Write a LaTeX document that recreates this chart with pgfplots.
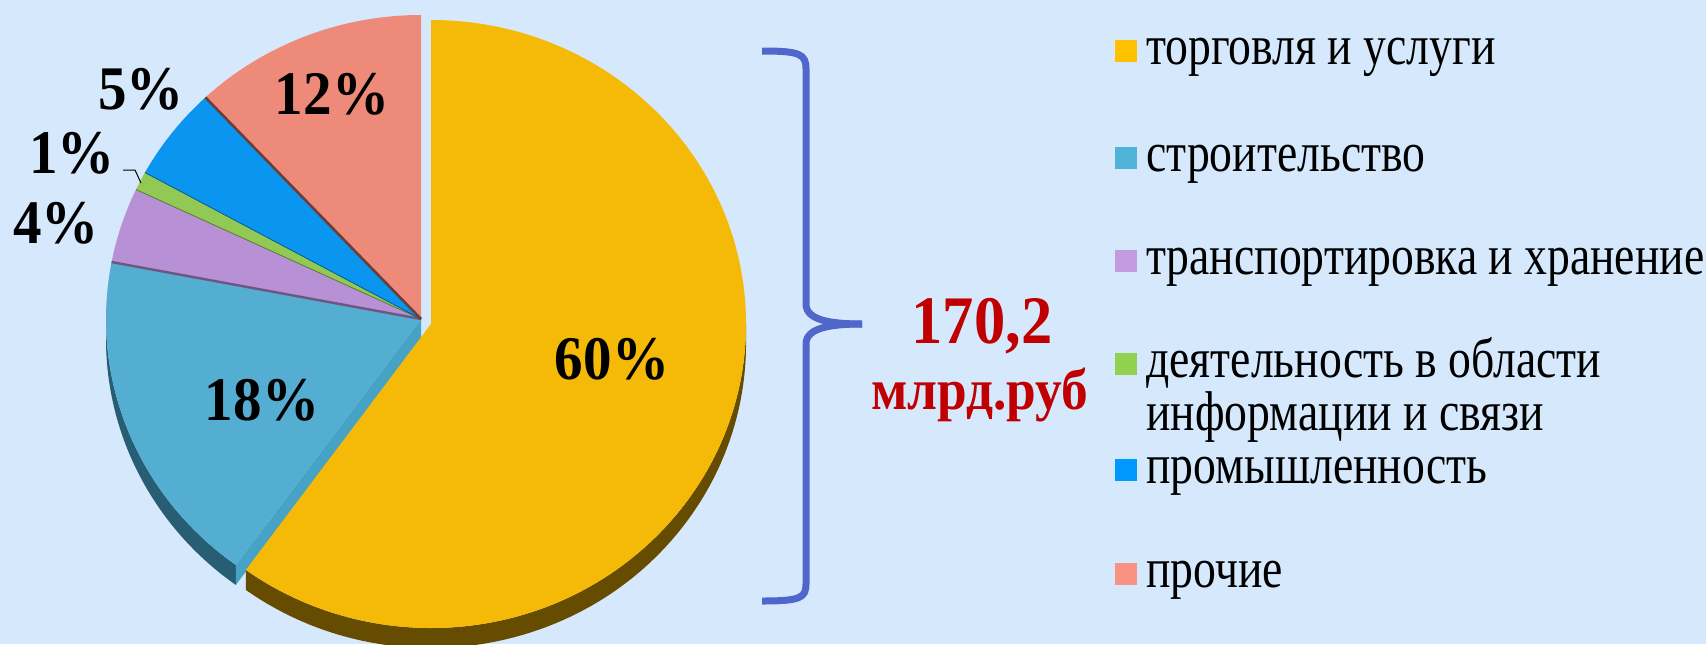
\documentclass[border=0pt]{standalone}
\usepackage{fontspec}
\setmainfont{Liberation Serif}
\newfontfamily\legfont{Liberation Serif}[FakeStretch=0.815]
\newfontfamily\labfont{Liberation Serif}[FakeStretch=0.92]
\usepackage{pgfplots}
\pgfplotsset{compat=1.18}
\definecolor{bg}{HTML}{D6E9FC}
\definecolor{cO}{HTML}{F5B908}
\definecolor{cT}{HTML}{53AED1}
\definecolor{cP}{HTML}{B890D6}
\definecolor{cG}{HTML}{92C955}
\definecolor{cB}{HTML}{0A95F0}
\definecolor{cK}{HTML}{EE8A7A}
\definecolor{sO}{HTML}{654C00}
\definecolor{sT}{HTML}{275E73}
\definecolor{fT}{HTML}{47A3C6}
\definecolor{lO}{HTML}{FFC000}
\definecolor{lT}{HTML}{4FB3D8}
\definecolor{lP}{HTML}{C39BE0}
\definecolor{lG}{HTML}{92D050}
\definecolor{lB}{HTML}{0099FF}
\definecolor{lK}{HTML}{F79284}
\definecolor{brace}{HTML}{4F67CB}
\definecolor{dred}{HTML}{C00000}
% #1 cumulative share before slice, #2 share (%), #3 colour, #4 cx, #5 cy
\newcommand{\topslice}[5]{%
  \pgfmathsetmacro\myS{90-3.6*#1}%
  \pgfmathsetmacro\myE{90-3.6*(#1+#2)}%
  \edef\tmp{\noexpand\fill[#3] (axis cs:#4,#5) -- ++(\myS:157.5pt and 152pt) arc[start angle=\myS,end angle=\myE,x radius=157.5pt,y radius=152pt] -- cycle;}%
  \tmp}
% #1 start angle, #2 end angle, #3 colour, #4 cx, #5 cy
\newcommand{\sidewall}[5]{%
  \edef\tmp{\noexpand\fill[#3] (axis cs:#4,#5) ++(#1:157.5pt and 152pt) arc[start angle=#1,end angle=#2,x radius=157.5pt,y radius=152pt] -- ++(0pt,-10pt) arc[start angle=#2,end angle=#1,x radius=157.5pt,y radius=152pt] -- cycle;}%
  \tmp}
% boundary line after cumulative share #1
\newcommand{\edgeline}[3]{%
  \pgfmathsetmacro\myS{90-3.6*#1}%
  \edef\tmp{\noexpand\draw[#2,line width=#3] (axis cs:421,325) -- ++(\myS:157.5pt and 152pt);}%
  \tmp}
\begin{document}
\begin{tikzpicture}
\begin{axis}[x=0.5pt,y=0.5pt,xmin=0,xmax=1706,ymin=0,ymax=644,
  hide axis,clip=false]
\fill[bg] (axis cs:0,0) rectangle (axis cs:1706,644);
% side walls
\sidewall{180}{234}{sT}{421}{325}
\fill[fT] (axis cs:421,325) -- ++(234:157.5pt and 152pt) -- ++(0pt,-10pt) -- (axis cs:421,305) -- cycle;
% slices (shares in %): 60, 18, 4, 1, 5, 12
\topslice{60}{18}{cT}{421}{325}
\topslice{78}{4}{cP}{421}{325}
\topslice{82}{1}{cG}{421}{325}
\topslice{83}{5}{cB}{421}{325}
\topslice{88}{12}{cK}{421}{325}
\edgeline{78}{cP!60!black}{1.2pt}
\edgeline{82}{cG!60!black}{0.4pt}
\edgeline{83}{cB!60!black}{0.4pt}
\edgeline{88}{cK!45!black}{1.3pt}
\sidewall{0}{-126}{sO}{431}{320}
\topslice{0}{60}{cO}{431}{320}
% percent labels
\node[font=\labfont\bfseries\fontsize{31}{31}\selectfont] at (axis cs:612,285) {60\%};
\node[font=\labfont\bfseries\fontsize{31}{31}\selectfont] at (axis cs:262,244) {18\%};
\node[font=\labfont\bfseries\fontsize{31}{31}\selectfont] at (axis cs:332,550) {12\%};
\node[font=\labfont\bfseries\fontsize{31}{31}\selectfont] at (axis cs:141,555) {5\%};
\node[font=\labfont\bfseries\fontsize{31}{31}\selectfont] at (axis cs:72,491) {1\%};
\node[font=\labfont\bfseries\fontsize{31}{31}\selectfont] at (axis cs:56,421) {4\%};
\draw[black,line width=0.5pt] (axis cs:123,474) -- (axis cs:135,474) -- (axis cs:141,461);
% brace
\draw[brace,line width=3.5pt,line cap=butt]
  (axis cs:762,593) .. controls (axis cs:800,593) and (axis cs:806,590) .. (axis cs:806,575)
  -- (axis cs:806,340) .. controls (axis cs:806,324) and (axis cs:830,320) .. (axis cs:862,320);
\draw[brace,line width=3.5pt,line cap=butt]
  (axis cs:806,300) .. controls (axis cs:806,316) and (axis cs:830,320) .. (axis cs:862,320);
\draw[brace,line width=3.5pt,line cap=butt]
  (axis cs:806,300) -- (axis cs:806,60) .. controls (axis cs:806,46) and (axis cs:800,43) .. (axis cs:762,43);
% total
\node[text=dred,font=\labfont\bfseries\fontsize{34}{34}\selectfont] at (axis cs:982,318) {170,2};
\node[text=dred,font=\labfont\bfseries\fontsize{29}{29}\selectfont] at (axis cs:980,249) {млрд.руб};
% legend
\fill[lO] (axis cs:1115,582) rectangle (axis cs:1137,604);
\fill[lT] (axis cs:1115,475) rectangle (axis cs:1137,497);
\fill[lP] (axis cs:1115,372) rectangle (axis cs:1137,394);
\fill[lG] (axis cs:1115,269) rectangle (axis cs:1137,291);
\fill[lB] (axis cs:1115,163) rectangle (axis cs:1137,185);
\fill[lK] (axis cs:1115,59) rectangle (axis cs:1137,81);
\begin{scope}[every node/.style={anchor=base west,inner sep=0pt,font=\legfont\fontsize{28}{28}\selectfont}]
\node at (axis cs:1146,580) {торговля и услуги};
\node at (axis cs:1146,473) {строительство};
\node at (axis cs:1146,370) {транспортировка и хранение};
\node at (axis cs:1146,267) {деятельность в области};
\node at (axis cs:1146,214) {информации и связи};
\node at (axis cs:1146,161) {промышленность};
\node at (axis cs:1146,57) {прочие};
\end{scope}
\end{axis}
\pgfresetboundingbox
\useasboundingbox (current axis.south west) rectangle (current axis.north east);
\end{tikzpicture}
\end{document}
